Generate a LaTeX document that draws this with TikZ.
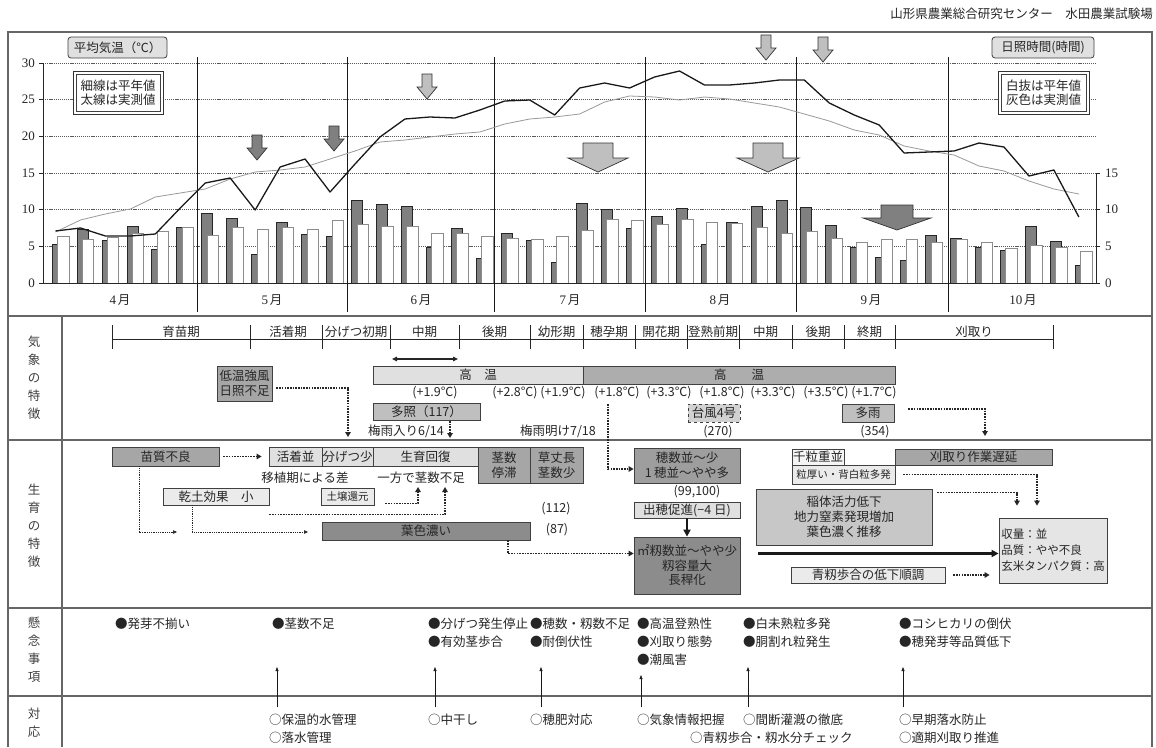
\documentclass[tikz,border=0pt]{standalone}
\usepackage{fontspec}
\setmainfont{Noto Sans CJK JP}
\newfontfamily\serifnum{Liberation Serif}
\usetikzlibrary{arrows.meta}
\newcommand\jf{\fontsize{12.5pt}{18pt}\selectfont}
\newcommand\jfb{\fontsize{12.5pt}{15pt}\selectfont}
\newcommand\jfn{\fontsize{12.5pt}{14.5pt}\selectfont}
\newcommand\jfs{\fontsize{10.5pt}{13pt}\selectfont}
\newcommand\jfx{\fontsize{11.5pt}{16pt}\selectfont}
\newcommand\numf{\serifnum\fontsize{13pt}{15pt}\selectfont}
\begin{document}
\begin{tikzpicture}[x=1pt,y=-1pt,
  frame/.style={black!60, line width=1.4pt},
  gridl/.style={black!65, line width=0.7pt, dash pattern=on 1.2pt off 0.9pt},
  bx/.style={draw=black!75, line width=0.8pt, inner sep=0pt, font=\jfb, text=black!85, align=center},
  txt/.style={inner sep=0pt, font=\jf, text=black!85, align=left},
  lbl/.style={inner sep=0pt, font=\jf, text=black!75, align=center},
  notebox/.style={draw=black!75, line width=0.6pt, fill=white, inner sep=0pt, align=center, font=\jfn, text=black!85},
  dotA/.style={black!85, line width=1.7pt, dash pattern=on 1.6pt off 1.1pt, -{Triangle[length=5pt,width=5.5pt]}},
  thinA/.style={black!85, line width=0.6pt, dash pattern=on 1pt off 0.8pt, -{Triangle[length=4pt,width=3.5pt]}},
  thickA/.style={black!90, line width=2.2pt, -{Triangle[length=7pt,width=7pt]}},
  upA/.style={black!90, line width=0.7pt, -{Triangle[length=4pt,width=3pt]}},
  chartarrow/.style={draw=black!80, line width=0.7pt}
]
\useasboundingbox (0,0) rectangle (1156,747);
\fill[white] (0,0) rectangle (1156,747);

% ---------- title ----------
\node[txt, anchor=east] (title) at (1153,14) {山形県農業総合研究センター　水田農業試験場};

% ---------- frame ----------
\draw[frame] (8,747) -- (8,32) -- (1152,32) -- (1152,747);
\foreach \yy in {316,440,608,696} \draw[frame] (8,\yy) -- (1152,\yy);
\draw[frame] (62,316) -- (62,747);

% ---------- chart grid and axes ----------
\foreach \v in {5,10,...,30} \draw[gridl] (43,{283-7.3333*\v}) -- (1096,{283-7.3333*\v});
\foreach \v in {0,5,...,30} {
  \node[anchor=east, inner sep=0pt, font=\numf, text=black!85] (yl\v) at (35,{283-7.3333*\v}) {\v};
  \draw[black!85, line width=0.7pt] (39,{283-7.3333*\v}) -- (43,{283-7.3333*\v});
}
\foreach \v in {0,5,10,15} {
  \node[anchor=west, inner sep=0pt, font=\numf, text=black!85] (yr\v) at (1105,{283-7.3333*\v}) {\v};
  \draw[black!85, line width=0.7pt] (1096,{283-7.3333*\v}) -- (1100,{283-7.3333*\v});
}

% ---------- bars ----------
\foreach \d/\w [count=\i from 0] in {244/236,229/239,240/237,226/233,249/231,227/227,
 213/235,218/227,254/229,222/227,234/229,236/220,
 200/224,204/226,206/226,247/233,228/233,258/236,
 233/238,240/239,262/236,203/230,209/219,228/220,
 216/224,208/219,244/222,222/223,206/227,200/233,
 207/231,225/238,247/242,257/239,260/239,235/242,
 238/239,247/242,250/248,226/245,241/247,265/251} {
  \pgfmathsetmacro\xx{52+24.96*\i}
  \draw[fill=black!50, draw=black!85, line width=0.7pt] (\xx,283) rectangle ({\xx+11},\d);
  \draw[fill=white, draw=black!45, line width=1pt] ({\xx+5.5},283) rectangle ({\xx+17},\w);
}

\draw[black!85, line width=0.8pt] (43,63) -- (43,283) -- (1096,283);
\draw[black!85, line width=0.8pt] (1096,173) -- (1096,283);

% ---------- month separators and labels ----------
\foreach \mx in {197,347,494,645,796,948} \draw[black!90, line width=0.8pt] (\mx,57) -- (\mx,312);
\foreach \cx/\m [count=\k] in {120/4,272/5,421/6,570/7,720/8,871/9,1023/10}
  \node[inner sep=0pt, text=black!85] (mo\k) at (\cx,300) {{\numf\m}\,{\jf 月}};

% ---------- temperature lines ----------
\draw[black!40, line width=0.8pt, line join=round] (55.5,232)
  \foreach \y [count=\i] in {220,214,209,197,193,189,179,172,170,167,159,151,142,140,137,134,132,124,119,117,114,102,96,97,100,97,99,103,107,114,121,130,135,146,151,155,166,171,181,189,194}
  { -- ({55.5+24.96*\i},\y) };
\draw[black!90, line width=1.3pt, line join=round] (55.5,231)
  \foreach \y [count=\i] in {228,236,236,234,208,183,178,210,167,159,192,164,137,119,117,118,110,101,100,115,88,83,88,77,71,85,85,83,80,80,103,115,125,153,152,151,143,147,176,170,217}
  { -- ({55.5+24.96*\i},\y) };

% ---------- chart arrows ----------
\foreach \ax/\at/\af in {257/135/black!50, 334/126/black!50, 427/74/black!25, 766/35/black!25, 823/37/black!25}
  \draw[chartarrow, fill=\af] ({\ax-5},\at) -- ({\ax+5},\at) -- ({\ax+5},{\at+13}) -- ({\ax+10},{\at+13})
     -- (\ax,{\at+25}) -- ({\ax-10},{\at+13}) -- ({\ax-5},{\at+13}) -- cycle;
\foreach \ax/\at/\sw/\hw/\sh/\th/\af in {598/143/15/30/15/29/black!25, 768/143/15/31/15/29/black!25, 897/205/16/34/13/25/black!50}
  \draw[chartarrow, fill=\af] ({\ax-\sw},\at) -- ({\ax+\sw},\at) -- ({\ax+\sw},{\at+\sh}) -- ({\ax+\hw},{\at+\sh})
     -- (\ax,{\at+\th}) -- ({\ax-\hw},{\at+\sh}) -- ({\ax-\sw},{\at+\sh}) -- cycle;

% ---------- legends ----------
\node[bx, rounded corners=3pt, fill=black!12, minimum width=99pt, minimum height=21pt, font=\jf] (lg1) at (117.5,47.5) {平均気温（℃）};
\node[bx, rounded corners=3pt, fill=black!12, minimum width=102pt, minimum height=21pt, font=\jf] (lg2) at (1043,47.5) {日照時間(時間)};
\fill[white] (73,71) rectangle (163,114);
\fill[white] (998,71) rectangle (1089,114);
\draw[black!80, line width=0.9pt] (73,71) rectangle (163,114);
\draw[black!80, line width=0.9pt] (998,71) rectangle (1089,114);
\node[notebox, minimum width=84pt, minimum height=37pt] (nt1) at (118,92.5) {細線は平年値\\太線は実測値};
\node[notebox, minimum width=85pt, minimum height=37pt] (nt2) at (1043.5,92.5) {白抜は平年値\\灰色は実測値};

% ---------- row labels ----------
\node[lbl] (lab1) at (34,378) {気\\象\\の\\特\\徴};
\node[lbl] (lab2) at (34,526) {生\\育\\の\\特\\徴};
\node[lbl] (lab3) at (34,650) {懸\\念\\事\\項};
\node[lbl] (lab4) at (34,723) {対\\応};

% ---------- stage timeline ----------
\draw[black!85, line width=0.8pt] (112,339) -- (1053,339);
\foreach \tx in {112,250,322,390,459,530,583,635,687,739,792,844,895,1053}
  \draw[black!85, line width=0.8pt] (\tx,325) -- (\tx,349);
\foreach \cx/\t [count=\k] in {181/育苗期, 288/活着期, 356/分げつ初期, 424.5/中期, 494.5/後期, 556.5/幼形期, 609/穂孕期, 661/開花期, 713/登熟前期, 765.5/中期, 818/後期, 869.5/終期, 974/刈取り}
  \node[lbl, text=black!85] (st\k) at (\cx,332) {\t};

% ---------- weather features ----------
\coordinate (da1) at (392,359);
\coordinate (da2) at (458,359);
\draw[black!85, line width=1.1pt, {Triangle[length=5pt,width=4.5pt]}-{Triangle[length=5pt,width=4.5pt]}] (da1) -- (da2);

\node[bx, fill=black!12, minimum width=210pt, minimum height=18pt] (kouon1) at (478,375) {高　温};
\node[bx, fill=black!32, minimum width=312pt, minimum height=18pt] (kouon2) at (739,375) {高　　温};
\foreach \cx/\t [count=\k] in {435/+1.9, 515/+2.8, 563/+1.9, 617/+1.8, 669/+3.3, 722/+1.8, 773/+3.3, 826/+3.5, 874/+1.7}
  \node[txt] (td\k) at (\cx,393) {(\t℃)};
\node[bx, fill=black!25, minimum width=107pt, minimum height=17pt] (tasho) at (426.5,412) {多照（117）};
\node[bx, fill=black!18, dashed, minimum width=52pt, minimum height=18pt] (taifu) at (714,413) {台風4号};
\node[bx, fill=black!25, minimum width=52pt, minimum height=18pt] (tau) at (868,413) {多雨};
\node[txt] (tsuyu1) at (406,431) {梅雨入り6/14};
\node[txt] (tsuyu2) at (558,431) {梅雨明け7/18};
\node[txt] (n270) at (718,432) {(270)};
\node[txt] (n354) at (875,432) {(354)};
\node[bx, fill=black!35, minimum width=55pt, minimum height=35pt] (teion) at (244.5,383.5) {低温強風\\日照不足};

\coordinate (cT) at (348,437);
\draw[dotA] ([xshift=4pt,yshift=-4.5pt]teion.east) -| (cT);
\coordinate (cS) at (450,438);
\draw[dotA] (tasho.south -| cS) -- (cS);
\coordinate (cR) at (985,436);
\draw[dotA] ([xshift=14pt,yshift=4pt]tau.east) -| (cR);

% ---------- growth features ----------
\node[bx, fill=black!35, minimum width=107pt, minimum height=19pt] (naeshitsu) at (165.5,456.5) {苗質不良};
\node[bx, fill=black!12, minimum width=53pt, minimum height=19pt] (kacchaku) at (295.5,456.5) {活着並};
\node[bx, fill=black!12, minimum width=51pt, minimum height=19pt] (bungetsu) at (347.5,456.5) {分げつ少};
\node[bx, fill=black!12, minimum width=105pt, minimum height=19pt] (seiiku) at (425.5,456.5) {生育回復};
\node[bx, fill=black!35, minimum width=52pt, minimum height=36pt] (keisu) at (504,465) {茎数\\停滞};
\node[bx, fill=black!35, minimum width=53pt, minimum height=36pt] (kusatake) at (556.5,465) {草丈長\\茎数少};
\node[txt] (ishoku) at (305,478) {移植期による差};
\node[txt] (ippou) at (421,478) {一方で茎数不足};
\node[bx, fill=black!8, minimum width=106pt, minimum height=17pt] (kando) at (216,496.5) {乾土効果　小};
\node[bx, fill=black!8, minimum width=53pt, minimum height=17pt, font=\jfs] (dojou) at (347.5,496.5) {土壌還元};
\node[bx, fill=black!45, minimum width=208pt, minimum height=18pt] (yoshoku) at (426,531) {葉色濃い};
\node[txt] (n112) at (556,509) {(112)};
\node[txt] (n87) at (557,530) {(87)};

\draw[dotA, shorten <=4pt, shorten >=7pt] (naeshitsu.east) -- (kacchaku.west);
\draw[dotA] ([xshift=11pt,yshift=-7pt]dojou.east) -| ([xshift=-3pt,yshift=-3pt]ippou.south);
\draw[dotA] ([yshift=-9pt]kando.south east) -| ([xshift=24pt,yshift=-3pt]ippou.south);
\coordinate (cN) at (177,532);
\draw[thinA] ([xshift=-26.5pt]naeshitsu.south) |- (cN);
\coordinate (cK) at (308,532);
\draw[thinA] ([xshift=-24pt]kando.south) |- (cK);

\node[bx, fill=black!38, minimum width=106pt, minimum height=35pt] (hosu) at (687,465.5) {穂数並～少\\1\,穂並～やや多};
\node[txt] (n99) at (697,492) {(99,100)};
\node[bx, fill=black!12, minimum width=106pt, minimum height=16pt] (shussui) at (687,510) {出穂促進(−4 日)};
\node[bx, fill=black!45, minimum width=106pt, minimum height=57pt, font=\jfn] (momi) at (687,565.5) {㎡籾数並～やや少\\籾容量大\\長稈化};
\node[bx, fill=black!4, minimum width=52pt, minimum height=16pt] (senryu) at (818,457) {千粒重並};
\node[bx, fill=black!35, minimum width=157pt, minimum height=16pt] (karitori) at (973.5,457) {刈取り作業遅延};
\node[bx, fill=black!8, minimum width=103pt, minimum height=19pt, font=\jfs] (tsubu) at (843.5,474.5) {粒厚い・背白粒多発};
\node[bx, fill=black!22, minimum width=176pt, minimum height=56pt, font=\jfb] (inetai) at (844,517) {稲体活力低下\\地力窒素発現増加\\葉色濃く推移};
\node[bx, fill=black!10, minimum width=108pt, minimum height=65pt, font=\jfx, align=left] (shuryo) at (1053,550.5) {収量：並\\品質：やや不良\\玄米タンパク質：高};
\node[bx, fill=black!8, minimum width=154pt, minimum height=16pt] (aomomi) at (868,575) {青籾歩合の低下順調};

\coordinate (cM) at (608,404);
\draw[dotA] (cM) |- ([yshift=-3.5pt]hosu.west);
\draw[thickA] (shussui.south) -- (momi.north);
\draw[dotA] ([xshift=82pt]yoshoku.south) |- ([yshift=12pt]momi.west);
\draw[dotA, shorten >=12pt] ([xshift=8pt]tsubu.east) -| ([xshift=-16pt]shuryo.north);
\draw[dotA, shorten >=12pt] ([xshift=5pt,yshift=-4pt]inetai.north east) -| ([xshift=-36pt]shuryo.north);
\draw[thickA] ([xshift=18pt,yshift=12pt]momi.east) -- ([yshift=12pt]momi.east -| shuryo.west);
\draw[dotA, shorten <=8pt, shorten >=9pt] (aomomi.east) -- (aomomi.east -| shuryo.west);

% ---------- concerns ----------
\node[txt, anchor=north west] (k1) at (115,617.75) {●発芽不揃い};
\node[txt, anchor=north west] (k2) at (272,617.75) {●茎数不足};
\node[txt, anchor=north west] (k3) at (428,617.75) {●分げつ発生停止\\●有効茎歩合};
\node[txt, anchor=north west] (k4) at (530,617.75) {●穂数・籾数不足\\●耐倒伏性};
\node[txt, anchor=north west] (k5) at (637,617.75) {●高温登熟性\\●刈取り態勢\\●潮風害};
\node[txt, anchor=north west] (k6) at (743,617.75) {●白未熟粒多発\\●胴割れ粒発生};
\node[txt, anchor=north west] (k7) at (899,617.75) {●コシヒカリの倒伏\\●穂発芽等品質低下};

% ---------- measures ----------
\node[txt, anchor=north west] (t1) at (269,713.75) {○保温的水管理\\○落水管理};
\node[txt, anchor=north west] (t2) at (428,713.75) {○中干し};
\node[txt, anchor=north west] (t3) at (530,713.75) {○穂肥対応};
\node[txt, anchor=north west] (t4) at (637,713.75) {○気象情報把握};
\node[txt, anchor=north west] (t5) at (743,713.75) {○間断灌漑の徹底};
\node[txt, anchor=north west] (t6) at (690,731.75) {○青籾歩合・籾水分チェック};
\node[txt, anchor=north west] (t7) at (899,713.75) {○早期落水防止\\○適期刈取り推進};

\coordinate (u1) at (277,667);
\coordinate (u2) at (435,667);
\coordinate (u3) at (541,667);
\coordinate (u4) at (641,675);
\coordinate (u5) at (748,667);
\coordinate (u7) at (903,667);
\draw[upA, shorten <=6.5pt] (t1.north west -| u1) -- (u1);
\draw[upA, shorten <=6.5pt] (t2.north west -| u2) -- (u2);
\draw[upA, shorten <=6.5pt] (t3.north west -| u3) -- (u3);
\draw[upA, shorten <=6.5pt] (t4.north west -| u4) -- (u4);
\draw[upA, shorten <=6.5pt] (t5.north west -| u5) -- (u5);
\draw[upA, shorten <=6.5pt] (t7.north west -| u7) -- (u7);
\end{tikzpicture}
\end{document}
